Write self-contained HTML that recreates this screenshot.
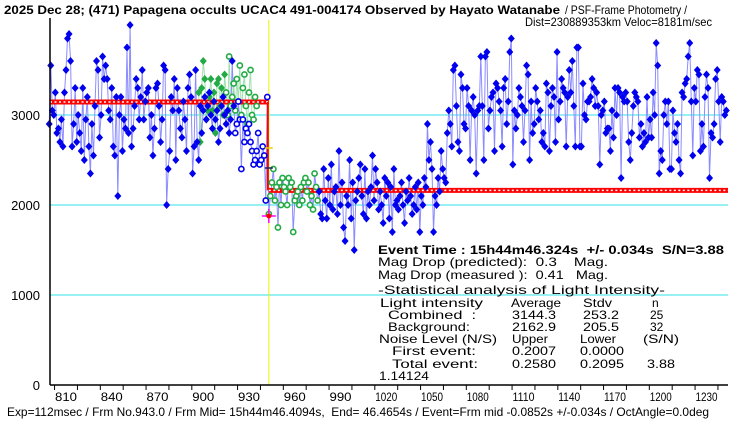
<!DOCTYPE html>
<html><head><meta charset="utf-8"><style>
html,body{margin:0;padding:0;background:#fff;width:740px;height:425px;overflow:hidden}
svg{display:block;font-family:"Liberation Sans",sans-serif}
text{white-space:pre}
</style></head><body>
<svg id="chart" width="740" height="425" viewBox="0 0 740 425" xmlns="http://www.w3.org/2000/svg">
<text x="4" y="14" font-size="12" font-weight="bold" textLength="556" lengthAdjust="spacingAndGlyphs">2025 Dec 28; (471) Papagena occults UCAC4 491-004174 Observed by Hayato Watanabe</text>
<text x="565" y="14" font-size="12" textLength="122" lengthAdjust="spacingAndGlyphs">/ PSF-Frame Photometry /</text>
<text x="525" y="26" font-size="12" textLength="187" lengthAdjust="spacingAndGlyphs">Dist=230889353km Veloc=8181m/sec</text>
<g id="grid"></g>
<g id="marks"></g>
<g id="axes"></g>
<g font-size="12" font-family="'Liberation Sans',sans-serif">
<text x="378" y="254" font-size="12" font-weight="bold" textLength="346" lengthAdjust="spacingAndGlyphs">Event Time : 15h44m46.324s  +/- 0.034s  S/N=3.88</text>
<text x="378" y="266" textLength="230" lengthAdjust="spacingAndGlyphs">Mag Drop (predicted):  0.3    Mag.</text>
<text x="378" y="279" textLength="230" lengthAdjust="spacingAndGlyphs">Mag Drop (measured ):  0.41   Mag.</text>
<text x="378" y="294" textLength="287" lengthAdjust="spacingAndGlyphs">-Statistical analysis of Light Intensity-</text>
<text x="380" y="307" textLength="103" lengthAdjust="spacingAndGlyphs">Light intensity</text><text x="511" y="307" textLength="50" lengthAdjust="spacingAndGlyphs">Average</text><text x="583" y="307" textLength="29" lengthAdjust="spacingAndGlyphs">Stdv</text><text x="652" y="307">n</text>
<text x="388" y="319" textLength="88" lengthAdjust="spacingAndGlyphs">Combined  :</text><text x="512" y="319" textLength="44" lengthAdjust="spacingAndGlyphs">3144.3</text><text x="583" y="319" textLength="36" lengthAdjust="spacingAndGlyphs">253.2</text><text x="650" y="319">25</text>
<text x="388" y="331" textLength="82" lengthAdjust="spacingAndGlyphs">Background:</text><text x="512" y="331" textLength="44" lengthAdjust="spacingAndGlyphs">2162.9</text><text x="583" y="331" textLength="36" lengthAdjust="spacingAndGlyphs">205.5</text><text x="650" y="331">32</text>
<text x="379" y="343" textLength="118" lengthAdjust="spacingAndGlyphs">Noise Level (N/S)</text><text x="512" y="343" textLength="36" lengthAdjust="spacingAndGlyphs">Upper</text><text x="580" y="343" textLength="36" lengthAdjust="spacingAndGlyphs">Lower</text><text x="643" y="343" textLength="36" lengthAdjust="spacingAndGlyphs">(S/N)</text>
<text x="392" y="355" textLength="84" lengthAdjust="spacingAndGlyphs">First event:</text><text x="512" y="355" textLength="44" lengthAdjust="spacingAndGlyphs">0.2007</text><text x="580" y="355" textLength="44" lengthAdjust="spacingAndGlyphs">0.0000</text>
<text x="392" y="368" textLength="86" lengthAdjust="spacingAndGlyphs">Total event:</text><text x="512" y="368" textLength="44" lengthAdjust="spacingAndGlyphs">0.2580</text><text x="580" y="368" textLength="44" lengthAdjust="spacingAndGlyphs">0.2095</text><text x="647" y="368" textLength="28" lengthAdjust="spacingAndGlyphs">3.88</text>
<text x="379" y="380" textLength="50" lengthAdjust="spacingAndGlyphs">1.14124</text>
</g>
<text x="7" y="416" font-size="12" textLength="702" lengthAdjust="spacingAndGlyphs">Exp=112msec / Frm No.943.0 / Frm Mid= 15h44m46.4094s,  End= 46.4654s / Event=Frm mid -0.0852s +/-0.034s / OctAngle=0.0deg</text>
</svg>
<script>
const mainStart = 799;
const mainValues = [
2900,3550,3050,3000,3250,2800,2850,2700,2950,2650,3250,3500,3850,3900,3600,2650,2900,3300,2700,3000,2800,2600,
3300,2500,2950,3200,2650,2350,2900,2550,3100,3600,3500,2750,3000,3650,3400,3550,3400,3050,2950,3300,
2650,2550,3200,2100,3000,3200,2600,2950,2850,3750,2800,4000,2650,2850,3100,3400,3300,2950,3200,3500,
2950,3150,3250,3300,2750,3000,2550,2850,3300,3350,3100,2700,2950,3550,3500,2000,2400,2600,3200,3050,
3400,2500,3300,3050,2850,2750,3150,2950,2600,3300,3450,3200,2350,2650,3500,2700,2500,3100,2800,3050,
3200,2950,3100,3250,3000,2850,3150,2950,3050,2700,2850,3100,3200,3000,2900,3050,2800,2950,3600,3100,
2800,2900,3150,2950,2400,2950,2700,2850,2800,2900,2700,2600,2450,2500,2600,2800,2450,2500,2650,2550,2050,3200,
1900,2100,2250,2400,2050,2200,1750,2250,2000,2300,2200,2150,2000,2300,2200,2250,1700,2050,2100,2150,2000,2200,2050,2250,2300,2150,2250,2000,2100,1950,2350,2200,2050,
2150,1900,1850,2400,2050,1850,2300,2000,2450,1950,
2150,2200,1900,2600,2000,2250,1750,1600,2100,2000,
2500,1850,2250,1500,2050,2150,2300,2450,2100,1900,
2400,1850,2150,2000,2200,2550,2050,2400,2250,1950,
2150,2000,1800,2300,2100,2250,1850,2200,1700,2400,
2000,2050,1950,2100,2250,2000,1800,2150,2050,2300,
2100,1900,2000,2200,1950,2250,1700,2100,2000,2300,
2200,2900,2500,2700,2400,1700,2100,2000,2300,2150,
2600,2400,2300,2250,2800,3050,2900,2650,3500,3550,
3100,2700,2600,3450,3300,2900,2850,3300,3100,2500,
3050,3200,3000,2350,3050,3100,3650,3100,2500,3650,
3700,2850,3050,3200,3250,2600,3350,3300,3150,3050,
2650,3300,3400,2900,3150,3700,3850,2450,3050,2850,
3000,3300,3200,3100,2700,3050,3550,3450,2500,3150,
2800,2900,3300,3150,2950,3050,2700,2800,2650,3350,
3250,2600,3100,3300,3200,2700,3700,2950,3150,3400,
3300,3250,2650,3200,3500,3250,3600,3100,2650,3750,
3750,2650,2650,3350,3000,2950,3150,3150,3200,3400,
3300,3100,3250,3100,2450,3000,3050,3150,2800,2850,
2850,2600,3050,2750,3300,3000,3300,3250,2300,3200,
3150,3250,3150,2700,2500,2800,3100,3250,3200,3150,
2750,2900,2650,2800,2700,3200,2750,2950,2750,3250,
3000,3800,3550,2350,2600,2500,3000,3150,2900,3150,
2400,2400,3050,2800,2700,2900,2500,2350,3250,3200,
3350,3400,3650,3800,3150,2550,3300,3150,3500,3450,
2600,2900,2650,3200,3450,3300,2300,2800,2750,2900,
3400,3500,3150,2700,3200,3150,3000,3050];
const greenStart = 897;
const greenValues = [3250,2700,3300,3600,3400,2950,3050,3200,3400,3050,3250,2800,3350,3400,3100,3300,3000,3450,3250,3000,
3650,3100,3200,3350,3050,3400,3150,3550,3000,3300,3450,3100,2900,3250,3500,3000,2950,3200,3100];
const openBlueRange = [921, 942];
const openGreenRange = [943, 975];
const upperLevel = 3144.3, lowerLevel = 2162.9, eventFrame = 943;
const xTicks = [810,840,870,900,930,960,990,1020,1050,1080,1110,1140,1170,1200,1230];
const yTicks = [0,1000,2000,3000];

const NS = "http://www.w3.org/2000/svg";
const X0 = 50, X1 = 728, Y0 = 385;
function xs(f){ return 66 + (f - 810) * 1.525; }
function ys(v){ return Y0 - v * 0.09; }
function mk(tag, attrs, parent){ const e = document.createElementNS(NS, tag); for (const k in attrs) e.setAttribute(k, attrs[k]); parent.appendChild(e); return e; }
const grid = document.getElementById('grid'), marks = document.getElementById('marks'), axes = document.getElementById('axes');

yTicks.forEach(t => {
  if (t > 0) {
    const g = mk('line', {x1:X0, x2:X1, y1:ys(t), y2:ys(t), stroke:'#33e0e8', 'stroke-width':1}, grid);
    
    
  }
  const tx = mk('text', {x:40, y:ys(t)+5, 'text-anchor':'end', 'font-size':13}, axes);
  tx.textContent = String(t);
  
  
});
const yl = mk('line', {x1:xs(eventFrame), x2:xs(eventFrame), y1:20, y2:Y0, stroke:'#f0f000', 'stroke-width':1}, grid);



let pts = mainValues.map((v,i) => xs(mainStart+i).toFixed(1) + ',' + ys(v).toFixed(1)).join(' ');
const pl = mk('polyline', {points:pts, fill:'none', stroke:'#8c8cff', 'stroke-width':1}, marks);


let gp = greenValues.map((v,i) => xs(greenStart+i).toFixed(1) + ',' + ys(v).toFixed(1)).join(' ');
const gl = mk('polyline', {points:gp, fill:'none', stroke:'#a0e0b0', 'stroke-width':1}, marks);



function level(x1, x2, y){
  mk('line', {x1:x1, x2:x2, y1:y, y2:y, stroke:'#ff0000', 'stroke-width':5}, marks);
  mk('line', {x1:x1, x2:x2, y1:y, y2:y, stroke:'#ffffff', 'stroke-width':1.5, 'stroke-dasharray':'2 2.5'}, marks);
}
level(X0, xs(eventFrame), ys(upperLevel));
level(xs(eventFrame), X1, ys(lowerLevel));
const dl = mk('line', {x1:xs(eventFrame)-1, x2:xs(eventFrame)-1, y1:ys(upperLevel), y2:ys(lowerLevel), stroke:'#ff0000', 'stroke-width':2}, marks);



function diamond(x, y, col){
  return mk('polygon', {points:`${x},${y-4} ${x+3.5},${y} ${x},${y+4} ${x-3.5},${y}`, fill:col}, marks);
}
greenValues.forEach((v,i) => {
  const x = xs(greenStart+i), y = ys(v);
  let e;
  if (i < 18) e = diamond(x, y, '#22aa44');
  else e = mk('circle', {cx:x, cy:y, r:2.6, fill:'#fff', stroke:'#22aa44', 'stroke-width':1.6}, marks);
  
  
});
mainValues.forEach((v,i) => {
  const f = mainStart + i, x = xs(f), y = ys(v);
  let e;
  if (f >= openBlueRange[0] && f <= openBlueRange[1]) e = mk('circle', {cx:x, cy:y, r:2.6, fill:'#fff', stroke:'#0000ee', 'stroke-width':1.6}, marks);
  else if (f >= openGreenRange[0] && f <= openGreenRange[1]) e = mk('circle', {cx:x, cy:y, r:2.6, fill:'#fff', stroke:'#22aa44', 'stroke-width':1.6}, marks);
  else e = diamond(x, y, '#0000ee');
  
  
});
const ex = xs(eventFrame);
mk('line', {x1:ex-4, x2:ex+4, y1:148, y2:148, stroke:'#e8d000', 'stroke-width':1.5}, marks);
mk('line', {x1:ex-4, x2:ex+4, y1:168, y2:168, stroke:'#202060', 'stroke-width':1.5}, marks);
const cr = mk('path', {d:`M${ex-7},216 H${ex+7} M${ex},209 V223`, stroke:'#ff00ff', 'stroke-width':1.5, fill:'none'}, marks);


mk('circle', {cx:ex, cy:216, r:2.5, fill:'#ff0000'}, marks);

const ya = mk('line', {x1:X0, x2:X0, y1:18, y2:Y0, stroke:'#000', 'stroke-width':1.5}, axes);


const xa = mk('line', {x1:X0, x2:X1, y1:Y0, y2:Y0, stroke:'#000', 'stroke-width':1.5}, axes);


for (let f = 802.5; f < 1245; f += 15) mk('line', {x1:xs(f), x2:xs(f), y1:Y0, y2:Y0+5, stroke:'#000', 'stroke-width':1}, axes);
xTicks.forEach(t => {
  const tx = mk('text', {x:xs(t), y:401, 'text-anchor':'middle', 'font-size':12, textLength:22, lengthAdjust:'spacingAndGlyphs'}, axes);
  tx.textContent = String(t);
  
  
});
</script>
</body></html>
